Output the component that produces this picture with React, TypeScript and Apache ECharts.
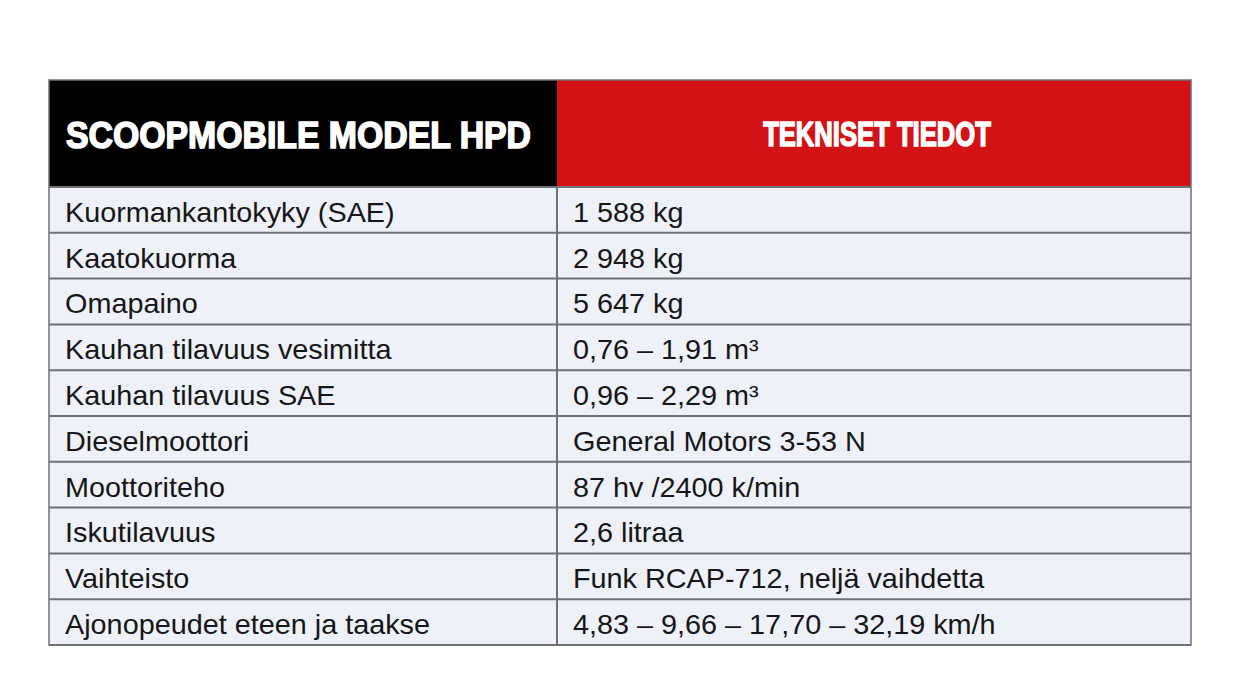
import React, { useEffect, useRef } from "react";
import * as echarts from "echarts";

const headerLeft = "SCOOPMOBILE MODEL HPD";
const headerRight = "TEKNISET TIEDOT";

const specLabels = [
  "Kuormankantokyky (SAE)",
  "Kaatokuorma",
  "Omapaino",
  "Kauhan tilavuus vesimitta",
  "Kauhan tilavuus SAE",
  "Dieselmoottori",
  "Moottoriteho",
  "Iskutilavuus",
  "Vaihteisto",
  "Ajonopeudet eteen ja taakse",
];

const specValues = [
  "1 588 kg",
  "2 948 kg",
  "5 647 kg",
  "0,76 – 1,91 m³",
  "0,96 – 2,29 m³",
  "General Motors 3-53 N",
  "87 hv /2400 k/min",
  "2,6 litraa",
  "Funk RCAP-712, neljä vaihdetta",
  "4,83 – 9,66 – 17,70 – 32,19 km/h",
];

const W = 1240;
const H = 691;
const T = { left: 49, right: 1191, top: 80, head: 187, bottom: 645, divider: 557 };

const FAMILY = '"Liberation Sans", Arial, Helvetica, sans-serif';
const BODY_SIZE = 28;
const HEAD_SIZE = 36;

function measure(text: string, font: string): number {
  const ctx = document.createElement("canvas").getContext("2d");
  if (!ctx) return text.length * 10;
  ctx.font = font;
  return ctx.measureText(text).width;
}

export default function App() {
  const ref = useRef<HTMLDivElement>(null);
  useEffect(() => {
    if (!ref.current) return;
    const chart = echarts.init(ref.current, null, { renderer: "svg" });

    const bodyFontStr = `${BODY_SIZE}px ${FAMILY}`;
    const headFontStr = `bold ${HEAD_SIZE}px ${FAMILY}`;
    const s1 = 425 / measure(specValues[9], bodyFontStr);
    const s2 = 326 / measure(specLabels[0], bodyFontStr);
    const s3 = 368 / measure(specLabels[9], bodyFontStr);
    const bodyScale = (s1 + s2 + s3) / 3;
    const headScaleL = 466 / measure(headerLeft, headFontStr);
    const headScaleR = 228 / measure(headerRight, headFontStr);

    const n = specLabels.length;
    const rowH = (T.bottom - T.head) / n;
    const els: any[] = [];

    els.push({
      type: "rect",
      shape: { x: T.left, y: T.top, width: T.divider - T.left, height: T.head - T.top },
      style: { fill: "#000000" },
    });
    els.push({
      type: "rect",
      shape: { x: T.divider, y: T.top, width: T.right - T.divider, height: T.head - T.top },
      style: { fill: "#d31216" },
    });
    els.push({
      type: "rect",
      shape: { x: T.left, y: T.head, width: T.right - T.left, height: T.bottom - T.head },
      style: { fill: "#eef1f7" },
    });

    const headStyle = {
      fill: "#ffffff",
      stroke: "#ffffff",
      lineWidth: 1.6,
      fontSize: HEAD_SIZE,
      fontWeight: "bold",
      fontFamily: FAMILY,
      verticalAlign: "middle",
      textVerticalAlign: "middle",
    };
    els.push({
      type: "text",
      x: 66,
      y: (T.top + T.head) / 2 + 2,
      scaleX: headScaleL,
      style: { ...headStyle, text: headerLeft, align: "left", textAlign: "left" },
    });
    els.push({
      type: "text",
      x: 877,
      y: (T.top + T.head) / 2,
      scaleX: headScaleR,
      style: { ...headStyle, text: headerRight, align: "center", textAlign: "center" },
    });

    specLabels.forEach((lab, i) => {
      const cy = T.head + rowH * (i + 0.5) + 2;
      const base = {
        fill: "#161616",
        fontSize: BODY_SIZE,
        fontFamily: FAMILY,
        align: "left",
        verticalAlign: "middle",
        textAlign: "left",
        textVerticalAlign: "middle",
      };
      els.push({ type: "text", x: 65, y: cy, scaleX: bodyScale, style: { ...base, text: lab } });
      els.push({ type: "text", x: 573, y: cy, scaleX: bodyScale, style: { ...base, text: specValues[i] } });
    });

    const lineStyle = { stroke: "#6e7176", lineWidth: 2 };
    for (let i = 0; i <= n; i++) {
      const y = T.head + rowH * i;
      els.push({ type: "line", shape: { x1: T.left, y1: y, x2: T.right, y2: y }, style: lineStyle });
    }
    els.push({ type: "line", shape: { x1: T.divider, y1: T.head, x2: T.divider, y2: T.bottom }, style: lineStyle });
    els.push({
      type: "rect",
      shape: { x: T.left, y: T.top, width: T.right - T.left, height: T.bottom - T.top },
      style: { fill: "none", stroke: "#6e7176", lineWidth: 1.5 },
    });

    chart.setOption({
      animation: false,
      backgroundColor: "#ffffff",
      graphic: { elements: els },
    });
    return () => chart.dispose();
  }, []);

  return (
    <div
      ref={ref}
      style={{ position: "fixed", left: 0, top: 0, width: W, height: H, background: "#fff" }}
    />
  );
}
